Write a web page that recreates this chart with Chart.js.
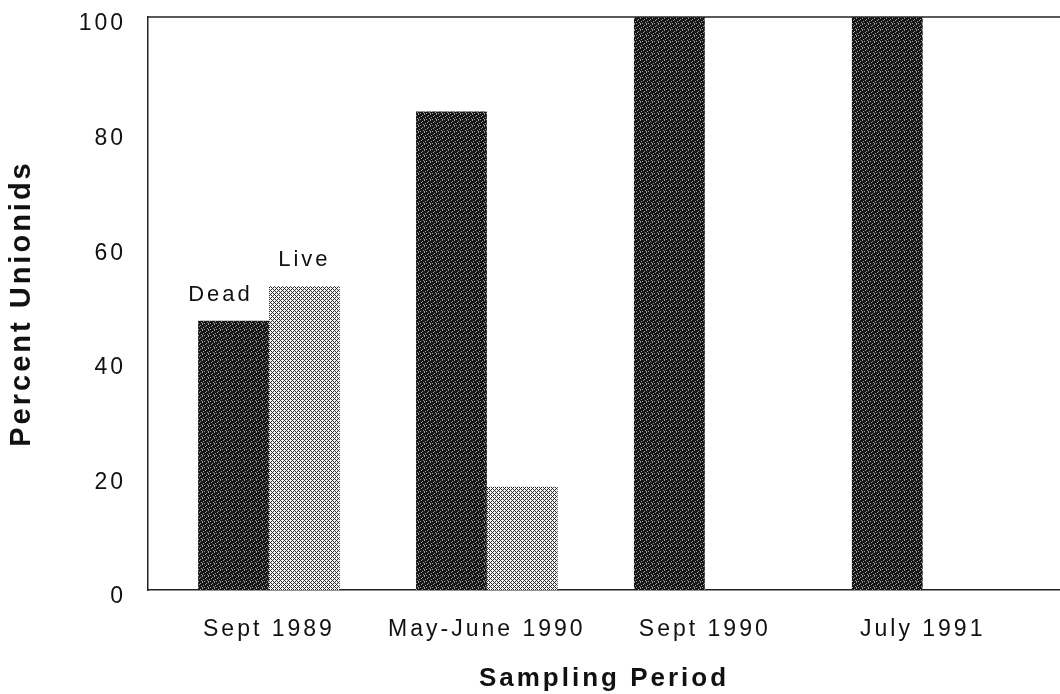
<!DOCTYPE html>
<html>
<head>
<meta charset="utf-8">
<script src="https://cdn.jsdelivr.net/npm/chart.js@4.4.0/dist/chart.umd.min.js"></script>
<style>
  body { margin: 0; background: #fff; }
  #wrap { width: 1060px; height: 694px; }
</style>
</head>
<body>
<div id="wrap"><canvas id="unionidsChart" width="1060" height="694"></canvas></div>
<script>
const periods = ['Sept 1989', 'May-June 1990', 'Sept 1990', 'July 1991'];
const deadPct = [47, 83.5, 100, 100];
const livePct = [53, 18, 0, 0];
const yTicks = [0, 20, 40, 60, 80, 100];

const FONT = '"Liberation Sans", Arial, sans-serif';

// scanned-print look: dark speckled fill and a light crosshatch
function makePattern(size, base, dots, dotColor) {
  const c = document.createElement('canvas');
  c.width = size; c.height = size;
  const g = c.getContext('2d');
  g.fillStyle = base;
  g.fillRect(0, 0, size, size);
  g.fillStyle = dotColor;
  dots.forEach(([x, y]) => g.fillRect(x, y, 1, 1));
  return g.createPattern(c, 'repeat');
}
const deadFill = makePattern(6, '#161616',
  [[1, 2], [4, 0], [3, 4], [0, 5], [5, 3], [2, 1], [4, 5]], '#9a9a9a');
const liveFill = makePattern(4, '#f4f4f4',
  [[0, 0], [1, 1], [2, 2], [3, 3], [1, 3], [3, 1]], '#2a2a2a');

const toPoints = arr => arr.map((v, i) => ({ x: i, y: v }));

// wide tracking like the printed figure
const tracking = {
  id: 'tracking',
  beforeDraw(chart) { chart.ctx.letterSpacing = '3px'; }
};

const barLabels = {
  id: 'barLabels',
  afterDatasetsDraw(chart) {
    const c = chart.ctx;
    const shift = [-13, 0];
    c.save();
    c.font = '22px ' + FONT;
    c.letterSpacing = '3px';
    c.fillStyle = '#111';
    c.textAlign = 'center';
    c.textBaseline = 'alphabetic';
    chart.data.datasets.forEach((ds, i) => {
      const bar = chart.getDatasetMeta(i).data[0];
      c.fillText(ds.label, bar.x + shift[i], bar.y - 20);
    });
    c.restore();
  }
};

const topLine = {
  id: 'topLine',
  afterDraw(chart) {
    const a = chart.chartArea;
    const c = chart.ctx;
    c.save();
    c.strokeStyle = '#222';
    c.lineWidth = 1.5;
    c.beginPath();
    c.moveTo(a.left, a.top);
    c.lineTo(a.right, a.top);
    c.stroke();
    c.restore();
  }
};

const ctx = document.getElementById('unionidsChart').getContext('2d');

new Chart(ctx, {
  type: 'bar',
  data: {
    datasets: [{
      label: 'Dead',
      data: toPoints(deadPct),
      backgroundColor: deadFill,
      borderWidth: 0
    }, {
      label: 'Live',
      data: toPoints(livePct),
      backgroundColor: liveFill,
      borderWidth: 0
    }]
  },
  options: {
    responsive: false,
    animation: false,
    categoryPercentage: 0.65,
    barPercentage: 1,
    layout: { autoPadding: false, padding: { top: 17, right: 0, left: 0, bottom: 0 } },
    plugins: {
      legend: { display: false },
      tooltip: { enabled: false }
    },
    scales: {
      x: {
        type: 'linear',
        offset: false,
        min: -0.555,
        max: 3.63,
        afterBuildTicks: s => { s.ticks = periods.map((_, i) => ({ value: i })); },
        afterFit: s => { s.height = 104; s.paddingLeft = 0; s.paddingRight = 0; },
        grid: { display: false, drawTicks: false },
        border: { display: true, color: '#222', width: 1.5 },
        ticks: {
          padding: 26,
          color: '#111',
          maxRotation: 0,
          autoSkip: false,
          font: { family: FONT, size: 23 },
          callback: v => periods[v]
        },
        title: {
          display: true,
          text: 'Sampling Period',
          color: '#111',
          padding: { top: 0, bottom: 0 },
          font: { family: FONT, size: 26, weight: 'bold' }
        }
      },
      y: {
        min: 0,
        max: 100,
        afterBuildTicks: s => { s.ticks = yTicks.map(v => ({ value: v })); },
        afterFit: s => { s.width = 148; s.paddingTop = 0; s.paddingBottom = 0; },
        grid: { display: false, drawTicks: false },
        border: { display: true, color: '#222', width: 1.5 },
        ticks: {
          padding: 22,
          labelOffset: 7,
          color: '#111',
          font: { family: FONT, size: 23 }
        },
        title: {
          display: true,
          text: 'Percent Unionids',
          color: '#111',
          padding: { top: 5, bottom: 0 },
          font: { family: FONT, size: 29, weight: 'bold' }
        }
      }
    }
  },
  plugins: [tracking, barLabels, topLine]
});
</script>
</body>
</html>
